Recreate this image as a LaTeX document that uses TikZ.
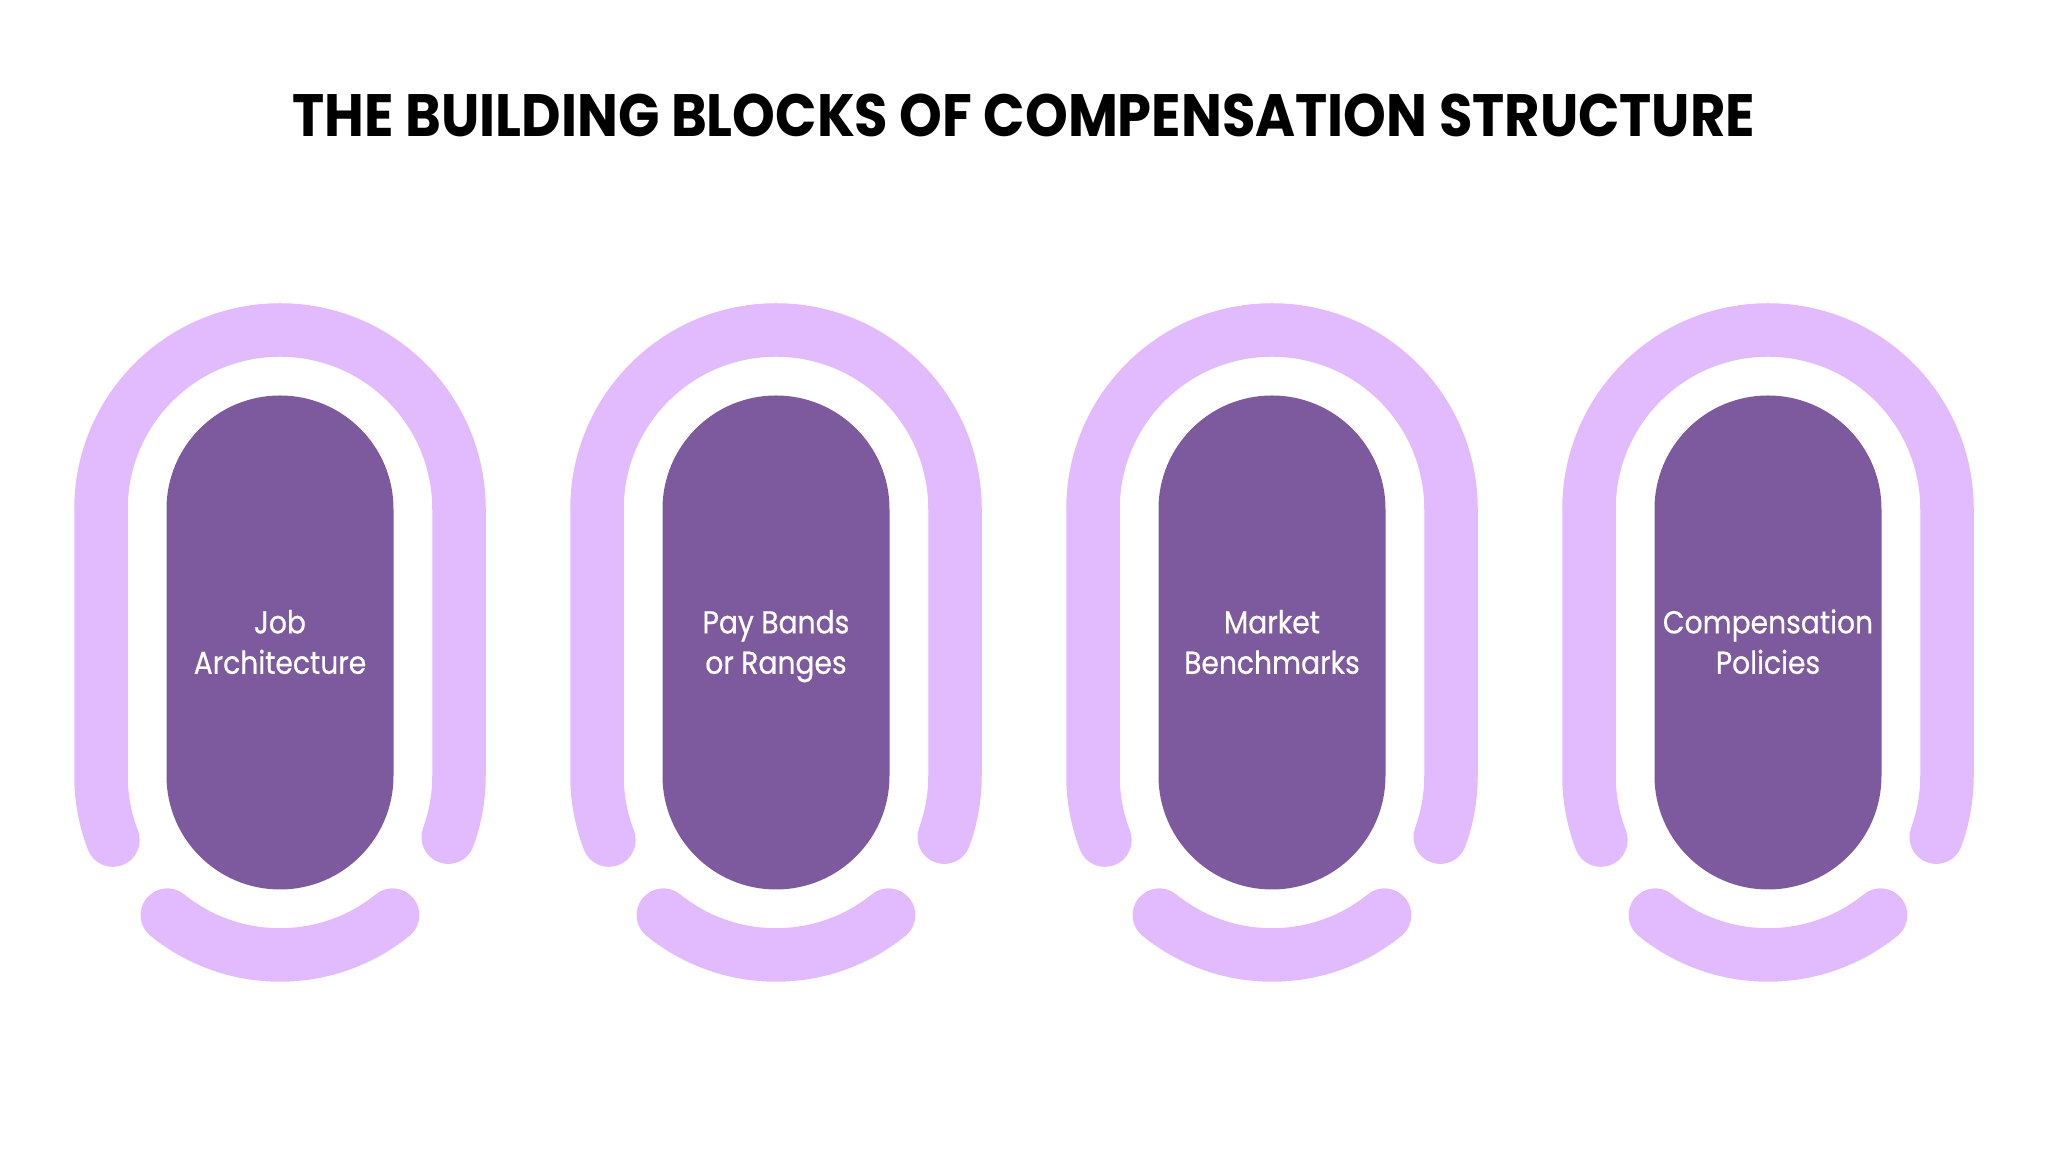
\documentclass[tikz,border=0pt]{standalone}
\usepackage{fontspec}
\setmainfont{Poppins}
\newfontfamily\titleFont{Poppins}[FakeStretch=0.91]
\newfontfamily\blockFont{Poppins}[FakeStretch=0.89, FakeBold=0.5]
\usetikzlibrary{positioning, calc}
\definecolor{blockPurple}{HTML}{7D5A9E}
\definecolor{ringLilac}{HTML}{E1BBFD}
\tikzset{
    blockNode/.style={
        rectangle,
        fill=blockPurple,
        text=white,
        align=center,
        minimum width=2.27cm,
        minimum height=4.94cm,
        rounded corners=1.135cm,
        inner sep=0pt,
        font=\blockFont\fontsize{9}{11.5}\selectfont
    },
    ringLine/.style={
        draw=ringLilac,
        line width=0.535cm,
        line cap=round
    }
}

\begin{document}
\begin{tikzpicture}
            % Canvas
            \useasboundingbox (0,0) rectangle (20.48,11.52);
            
            % Title
            \node[font=\titleFont\fontsize{17}{20}\selectfont\bfseries] (Title) at (10.24,10.37) {THE BUILDING BLOCKS OF COMPENSATION STRUCTURE};
            
            % Blocks
            \foreach \x/\name/\lbl in {2.80/A/{Job\\Architecture}, 7.76/B/{Pay Bands\\or Ranges}, 12.72/C/{Market\\Benchmarks}, 17.68/D/{Compensation\\Policies}} {
                \coordinate (Top\name) at (\x,6.43);
                \coordinate (Bot\name) at (\x,3.76);
                
                % Outer arch with legs
                \draw[ringLine] ($(Bot\name)+(201:1.79)$) arc[start angle=201, end angle=180, radius=1.79]
                    -- ($(Top\name)+(180:1.79)$) arc[start angle=180, end angle=0, radius=1.79]
                    -- ($(Bot\name)+(0:1.79)$) arc[start angle=0, end angle=-20, radius=1.79];
                
                % Smile below
                \draw[ringLine] ($(Bot\name)+(-129:1.79)$) arc[start angle=-129, end angle=-51, radius=1.79];
                
                % Pill
                \node[blockNode] (Block\name) at (\x,5.095) {};
                \node[font=\blockFont\fontsize{9}{11.5}\selectfont, text=white, align=center, inner sep=0pt] (Label\name) at ($(Block\name.center)+(0,-0.03)$) {\strut\lbl\strut};
            }
        \end{tikzpicture}
\end{document}
